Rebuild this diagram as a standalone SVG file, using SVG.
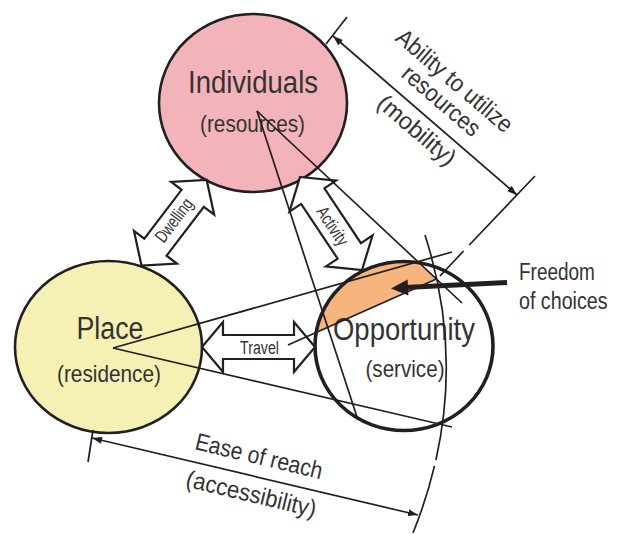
<svg xmlns="http://www.w3.org/2000/svg" width="624" height="534" viewBox="0 0 624 534">
<style>
.ln{fill:none;stroke:#231f20;stroke-width:1.7}
.circ{stroke:#231f20;stroke-width:2.6}
.blk{fill:#fff;stroke:#231f20;stroke-width:2.2;stroke-linejoin:miter}
text{font-family:"Liberation Sans",Arial,sans-serif;fill:#333}
.big{font-size:31px}
.med{font-size:24px}
.sm{font-size:18px}
</style>
<defs>
<marker id="ae" markerUnits="userSpaceOnUse" markerWidth="11" markerHeight="8" refX="10" refY="3.5" orient="auto"><path d="M0,0 L10,3.5 L0,7 z" fill="#231f20"/></marker>
<marker id="as" markerUnits="userSpaceOnUse" markerWidth="11" markerHeight="8" refX="0" refY="3.5" orient="auto"><path d="M10,0 L0,3.5 L10,7 z" fill="#231f20"/></marker>
</defs>

<g id="place">
<ellipse class="circ" cx="108.5" cy="347" rx="93.5" ry="86" fill="#f5f0b4"/>
<text class="big" x="110" y="339" text-anchor="middle" textLength="67" lengthAdjust="spacingAndGlyphs">Place</text>
<text class="med" x="109" y="381.5" text-anchor="middle" textLength="104" lengthAdjust="spacingAndGlyphs">(residence)</text>
</g>

<g id="individuals">
<ellipse class="circ" cx="253" cy="103" rx="94" ry="89" fill="#f3b3ba"/>
<text class="big" x="253" y="93" text-anchor="middle" textLength="130" lengthAdjust="spacingAndGlyphs">Individuals</text>
<text class="med" x="252.5" y="131.5" text-anchor="middle" textLength="105" lengthAdjust="spacingAndGlyphs">(resources)</text>
</g>

<g id="freedom-area">
<path d="M316.5,332.6 L436.4,279 L416,262 A89,84.5 0 0 0 316.5,332.6 Z" fill="#f5b57c"/>
</g>

<g id="opportunity">
<ellipse cx="404" cy="346" rx="89" ry="84.5" fill="none" stroke="#231f20" stroke-width="3.6"/>
<text class="big" x="404" y="340" text-anchor="middle" textLength="142" lengthAdjust="spacingAndGlyphs">Opportunity</text>
<text class="med" x="405" y="376.5" text-anchor="middle" textLength="79" lengthAdjust="spacingAndGlyphs">(service)</text>
</g>

<g id="dwelling">
<polygon class="blk" transform="translate(141.5,265.5) rotate(-52.7)" points="0,0 23,-27 23,-14 84.5,-14 84.5,-27 107.5,0 84.5,27 84.5,14 23,14 23,27"/>
<text class="sm" transform="translate(178.8,223.9) rotate(-53)" text-anchor="middle" textLength="50" lengthAdjust="spacingAndGlyphs">Dwelling</text>
</g>

<g id="activity">
<polygon class="blk" transform="translate(300,177) rotate(56.3)" points="0,0 23,-28 23,-14 88.8,-14 88.8,-28 111.8,0 88.8,28 88.8,14 23,14 23,28"/>
<text class="sm" transform="translate(327.6,229.5) rotate(56.3)" text-anchor="middle" textLength="43" lengthAdjust="spacingAndGlyphs">Activity</text>
</g>

<g id="travel">
<polygon class="blk" transform="translate(202,347)" points="0,0 21,-25 21,-12 92,-12 92,-25 113,0 92,25 92,12 21,12 21,25"/>
<text class="sm" x="259.5" y="353.5" text-anchor="middle" textLength="39" lengthAdjust="spacingAndGlyphs">Travel</text>
</g>

<g id="connectors">
<path class="ln" d="M113,348 L452,252"/>
<path class="ln" d="M113,348 L452,427"/>
<path class="ln" d="M257,111 L358,420"/>
<path class="ln" d="M257,111 L462,303"/>
<path class="ln" d="M288,345 L436.4,279"/>
</g>

<g id="mobility-dimension">
<path class="ln" d="M347,17 L326,44"/>
<path class="ln" d="M535,176 L469.3,245 M463.6,251 L440,276"/>
<path class="ln" d="M333,36 L517,195" marker-start="url(#as)" marker-end="url(#ae)"/>
<text class="med" transform="translate(449.4,86.9) rotate(40.5)" text-anchor="middle" textLength="145" lengthAdjust="spacingAndGlyphs">Ability to utilize</text>
<text class="med" transform="translate(436.1,106.9) rotate(40.5)" text-anchor="middle" textLength="95" lengthAdjust="spacingAndGlyphs">resources</text>
<text class="med" transform="translate(411.6,136.3) rotate(40.5)" text-anchor="middle" textLength="95" lengthAdjust="spacingAndGlyphs">(mobility)</text>
</g>

<g id="accessibility-dimension">
<path class="ln" d="M93,430 L88,462"/>
<path class="ln" stroke-width="2" d="M425,235 Q461.2,347.5 435.9,460 M434.5,465.9 Q426.5,499.5 413,533"/>
<path class="ln" d="M92,438 L418,515" marker-start="url(#as)" marker-end="url(#ae)"/>
<text class="med" transform="translate(257.1,464.1) rotate(13.5)" text-anchor="middle" textLength="130" lengthAdjust="spacingAndGlyphs">Ease of reach</text>
<text class="med" transform="translate(249.4,501.8) rotate(13.5)" text-anchor="middle" textLength="133" lengthAdjust="spacingAndGlyphs">(accessibility)</text>
</g>

<g id="freedom-label">
<path d="M507,282.5 L405,287.4" stroke="#231f20" stroke-width="5" fill="none"/>
<polygon points="391,288.5 408.4,295.6 407.6,279.6" fill="#231f20"/>
<text class="med" transform="translate(519,280) scale(0.79,1)">Freedom</text>
<text class="med" transform="translate(519,309) scale(0.82,1)">of choices</text>
</g>
</svg>
